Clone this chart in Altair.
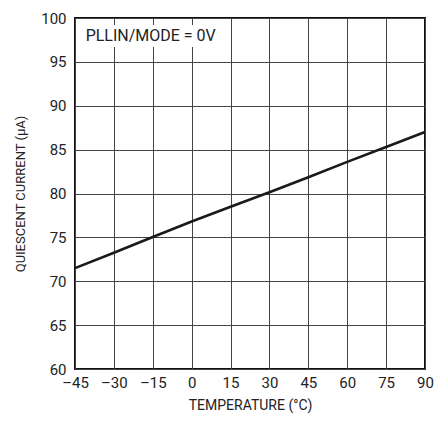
import altair as alt
import pandas as pd

temps = [-45, -30, -15, 0, 15, 30, 45, 60, 75, 90]
current = [71.5, 73.25, 75.05, 76.8, 78.5, 80.15, 81.85, 83.6, 85.3, 87.0]
x_ticks = [-45, -30, -15, 0, 15, 30, 45, 60, 75, 90]
y_ticks = [60, 65, 70, 75, 80, 85, 90, 95, 100]
note_text = ["PLLIN/MODE = 0V"]

FONT = "Roboto, Liberation Sans, sans-serif"

df = pd.DataFrame({"t": temps, "i": current})

xs = alt.Scale(domain=[-45, 90], nice=False, zero=False)
ys = alt.Scale(domain=[60, 100], nice=False, zero=False)

x_axis = alt.Axis(
    values=x_ticks, title="TEMPERATURE (°C)", grid=True, gridColor="#444", gridWidth=1,
    domain=False, ticks=False, labelPadding=6, labelFontSize=15, labelFont=FONT,
    labelColor="#222", labelFlush=False, labelOverlap=False,
    labelExpr="datum.value < 0 ? '–' + abs(datum.value) : '' + datum.value",
    titleFont=FONT, titleFontSize=14, titleFontWeight="normal", titleColor="#222",
    titlePadding=8)
y_axis = alt.Axis(
    values=y_ticks, title="QUIESCENT CURRENT (µA)", grid=True, gridColor="#444", gridWidth=1,
    domain=False, ticks=False, labelPadding=9, labelFontSize=15, labelFont=FONT,
    labelColor="#222", labelFlush=False, labelOverlap=False,
    titleFont=FONT, titleFontSize=13, titleFontWeight="normal", titleColor="#222",
    titlePadding=13)

line = alt.Chart(df).mark_line(color="#1a1a1a", strokeWidth=2.6).encode(
    x=alt.X("t:Q", scale=xs, axis=x_axis),
    y=alt.Y("i:Q", scale=ys, axis=y_axis),
)

box_df = pd.DataFrame({"x1": [-43.8], "x2": [12.2], "y1": [96.7], "y2": [99.2]})
box = alt.Chart(box_df).mark_rect(color="white").encode(
    x=alt.X("x1:Q", scale=xs, axis=x_axis), x2="x2:Q",
    y=alt.Y("y1:Q", scale=ys, axis=y_axis), y2="y2:Q"
)

note_df = pd.DataFrame({"x": [-15.8], "y": [97.9], "txt": note_text})
note = alt.Chart(note_df).mark_text(font=FONT, fontSize=16, color="#222", baseline="middle", align="center").encode(
    x=alt.X("x:Q", scale=xs, axis=x_axis), y=alt.Y("y:Q", scale=ys, axis=y_axis), text="txt:N"
)

chart = alt.layer(line, box, note).properties(
    width=350, height=351,
    padding={"left": 67, "top": 10, "right": 9, "bottom": 46},
    autosize="none",
    background="white",
).configure_view(stroke="#111", strokeWidth=2)

chart.save("out.html", embed_options={"renderer": "svg", "actions": False})
